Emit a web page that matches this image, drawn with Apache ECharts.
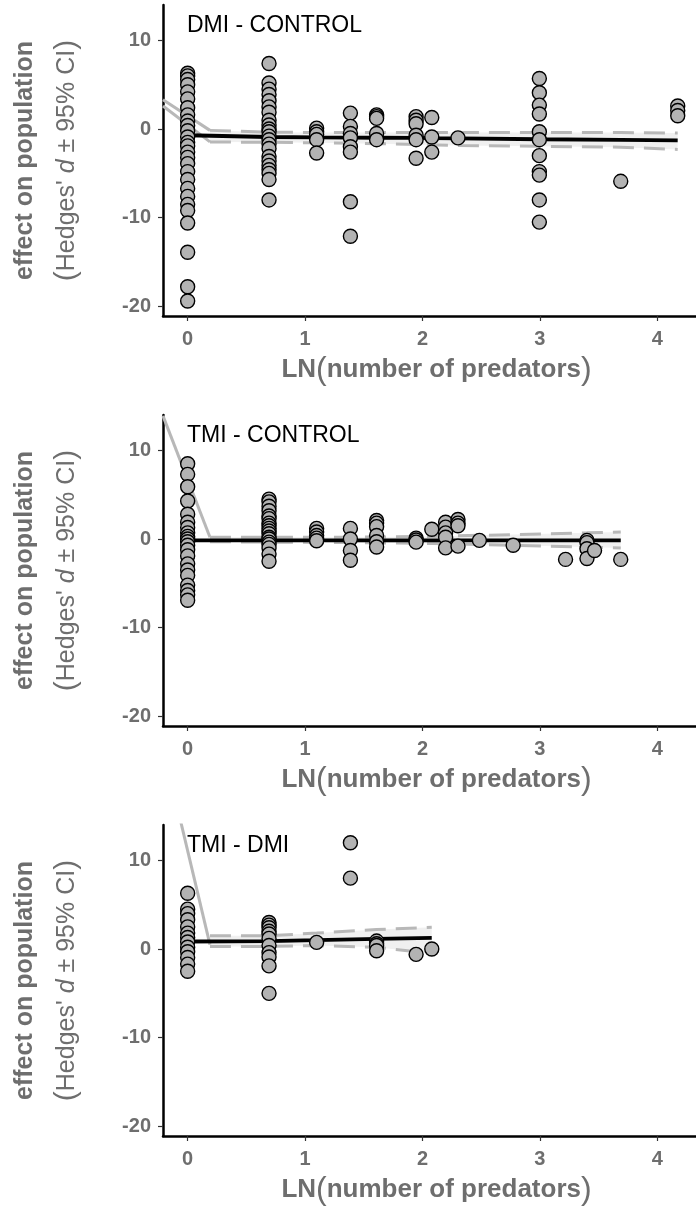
<!DOCTYPE html>
<html><head><meta charset="utf-8">
<script src="https://cdn.jsdelivr.net/npm/echarts@6/dist/echarts.min.js"></script>
<style>html,body{margin:0;padding:0;background:#fff}#c{width:696px;height:1210px}</style>
</head><body><div id="c"></div>
<script>
// ---------- data ----------
const panelTitles = ['DMI - CONTROL', 'TMI - CONTROL', 'TMI - DMI'];
const xTicks = [0, 1, 2, 3, 4];
const yTicks = [-20, -10, 0, 10];

// points: [number of predators, [Hedges' d values]]
const dmiControlPoints = [
  [1, [6.3, 6.0, 5.6, 5.0, 4.2, 3.4, 2.4, 1.6, 0.9, 0.4, -0.2, -0.9, -1.5, -1.9, -2.6, -3.2, -3.9, -4.8, -5.7, -6.7, -7.6, -8.5, -9.2, -10.6, -13.9, -17.8, -19.4]],
  [2, [7.4, 5.2, 4.5, 3.9, 3.2, 2.5, 1.9, 1.0, 0.45, 0.0, -0.3, -0.8, -1.2, -1.7, -2.2, -3.1, -3.6, -4.1, -4.6, -5.0, -5.7, -8.0]],
  [3, [0.1, -0.3, -0.6, -1.2, -2.7]],
  [4, [1.8, 0.3, -0.5, -1.0, -2.0, -2.6, -8.2, -12.1]],
  [5, [1.6, 1.4, 1.2, -0.5, -1.2]],
  [7, [1.4, 1.0, 0.6, -0.7, -1.2, -3.3]],
  [8, [1.3, -0.9, -2.6]],
  [10, [-1.0]],
  [20, [5.7, 4.1, 2.7, 1.7, -0.3, -1.2, -3.0, -4.8, -5.2, -8.0, -10.5]],
  [40, [-5.9]],
  [65, [2.6, 2.1, 1.5]]
];
const tmiControlPoints = [
  [1, [8.5, 7.3, 5.9, 4.3, 2.8, 1.9, 1.3, 0.7, 0.3, 0.0, -0.3, -0.7, -1.2, -1.9, -2.8, -3.5, -4.1, -5.2, -5.8, -6.3, -6.9]],
  [2, [4.5, 4.2, 3.7, 3.2, 2.6, 2.3, 1.8, 1.5, 1.2, 0.9, 0.6, 0.2, 0.0, -0.35, -0.6, -1.0, -1.7, -2.5]],
  [3, [1.2, 0.8, 0.4, 0.1, -0.2]],
  [4, [1.2, 0.0, -1.3, -2.4]],
  [5, [2.1, 1.8, 1.4, 0.4, -0.3, -0.9]],
  [7, [0.1, -0.1, -0.35]],
  [8, [1.1]],
  [9, [1.9, 1.35, 0.7, 0.2, -1.0]],
  [10, [2.2, 1.8, 1.5, -0.8]],
  [12, [-0.15]],
  [16, [-0.7]],
  [25, [-2.3]],
  [30, [-0.15, -0.4, -1.1, -2.2]],
  [32, [-1.3]],
  [40, [-2.3]]
];
const tmiDmiPoints = [
  [1, [6.3, 4.5, 4.0, 3.3, 2.5, 1.8, 1.3, 0.8, 0.2, -0.3, -0.95, -1.7, -2.5]],
  [2, [3.0, 2.7, 2.4, 2.0, 1.7, 1.2, 0.4, -0.4, -0.9, -1.9, -5.0]],
  [3, [0.75]],
  [4, [12.0, 8.0]],
  [5, [0.9, 0.6, 0.4, -0.2]],
  [7, [-0.6]],
  [8, [0.0]]
];

// fitted lines (x in LN units)
const dmiControlFitX = [0, 0.693, 1.099, 1.386, 1.609, 1.946, 2.079, 2.303, 2.996, 3.689, 4.174];
const dmiControlFit  = [-0.7, -0.9, -0.95, -0.97, -0.98, -1.0, -1.02, -1.05, -1.15, -1.22, -1.28];
const tmiControlFitX = [0, 0.693, 1.386, 2.079, 2.773, 3.689];
const tmiControlFit  = [-0.15, -0.15, -0.15, -0.15, -0.15, -0.15];
const tmiDmiFitX = [0, 0.693, 1.099, 1.609, 2.079];
const tmiDmiFit  = [0.85, 0.9, 1.0, 1.15, 1.25];

// 95% CI, dashed part
const dmiControlCiX = [0.19, 0.693, 1.099, 1.609, 2.303, 2.996, 3.689, 4.174];
const dmiControlCiUp = [-0.15, -0.35, -0.4, -0.4, -0.4, -0.4, -0.4, -0.45];
const dmiControlCiLo = [-1.45, -1.5, -1.55, -1.65, -1.85, -1.95, -2.05, -2.3];
const tmiControlCiX = [0.19, 0.693, 1.386, 2.079, 2.773, 3.401, 3.689];
const tmiControlCiUp = [0.2, 0.2, 0.2, 0.3, 0.5, 0.7, 0.8];
const tmiControlCiLo = [-0.3, -0.35, -0.4, -0.5, -0.7, -0.9, -1.0];
const tmiDmiCiX = [0.19, 0.693, 1.099, 1.609, 2.079];
const tmiDmiCiUp = [1.5, 1.5, 1.8, 2.2, 2.45];
const tmiDmiCiLo = [0.3, 0.3, 0.4, 0.2, -0.5];

// 95% CI, solid part near zero
const dmiControlCiSolid = [[[-0.21, 3.3], [0.19, -0.15]], [[-0.21, 2.6], [0.19, -1.45]]];
const tmiControlCiSolid = [[[-0.21, 13.9], [0.19, 0.2]]];
const tmiDmiCiSolid = [[[-0.21, 22.8], [0.19, 0.5]]];

// ---------- chart ----------
const FONT = 'Liberation Sans, Arial, sans-serif';
const GRAY = '#6e6e6e';
const panels = [
  {pts: dmiControlPoints, fx: dmiControlFitX, fy: dmiControlFit, cx: dmiControlCiX, cu: dmiControlCiUp, cl: dmiControlCiLo, cs: dmiControlCiSolid},
  {pts: tmiControlPoints, fx: tmiControlFitX, fy: tmiControlFit, cx: tmiControlCiX, cu: tmiControlCiUp, cl: tmiControlCiLo, cs: tmiControlCiSolid},
  {pts: tmiDmiPoints, fx: tmiDmiFitX, fy: tmiDmiFit, cx: tmiDmiCiX, cu: tmiDmiCiUp, cl: tmiDmiCiLo, cs: tmiDmiCiSolid}
];
const zip = (xs, ys) => xs.map((x, i) => [x, ys[i]]);

const grids = [], xAxes = [], yAxes = [], titles = [], series = [];
panels.forEach((p, i) => {
  const top = 5 + 410 * i;
  grids.push({left: 163, width: 533, top: top, height: 311});
  titles.push({text: panelTitles[i], left: 187, top: top + 9, padding: 0,
    textStyle: {fontFamily: FONT, fontSize: 23, fontWeight: 'normal', color: '#000'}});
  xAxes.push({
    type: 'value', gridIndex: i, min: -0.21, max: 4.33,
    axisLine: {onZero: false, lineStyle: {color: '#000', width: 2.5}},
    axisTick: {show: true, length: 5, customValues: xTicks, lineStyle: {color: '#333', width: 1.2}},
    axisLabel: {customValues: xTicks, margin: 13, fontFamily: FONT, fontSize: 20, fontWeight: 'bold', color: GRAY},
    splitLine: {show: false},
    name: 'LN{p|(}number of predators{p|)}', nameLocation: 'middle', nameGap: 38,
    nameTextStyle: {fontFamily: FONT, fontSize: 26, fontWeight: 'bold', color: GRAY, padding: [0, 0, 0, 14],
      rich: {p: {fontFamily: FONT, fontSize: 32, fontWeight: 'normal', color: GRAY}}}
  });
  yAxes.push({
    type: 'value', gridIndex: i, min: -21.1, max: 14,
    axisLine: {onZero: false, lineStyle: {color: '#000', width: 2.5}},
    axisTick: {show: true, length: 5, customValues: yTicks, lineStyle: {color: '#333', width: 1.2}},
    axisLabel: {customValues: yTicks, margin: 12, fontFamily: FONT, fontSize: 20, fontWeight: 'bold', color: GRAY},
    splitLine: {show: false},
    name: '{b|effect on population}\n{p|(}{n|Hedges\' }{i|d}{n| \u00b1 95% CI}{p|)}',
    nameLocation: 'middle', nameRotate: 90, nameGap: 75,
    nameTextStyle: {fontFamily: FONT, color: GRAY, rich: {
      b: {fontFamily: FONT, fontSize: 25, fontWeight: 'bold', color: GRAY, lineHeight: 42},
      n: {fontFamily: FONT, fontSize: 25, fontWeight: 'normal', color: GRAY, lineHeight: 42},
      i: {fontFamily: FONT, fontSize: 25, fontWeight: 'normal', fontStyle: 'italic', color: GRAY, lineHeight: 42},
      p: {fontFamily: FONT, fontSize: 30, fontWeight: 'normal', color: GRAY, lineHeight: 42}
    }}
  });
  // CI band
  series.push({
    type: 'custom', xAxisIndex: i, yAxisIndex: i, z: 1, silent: true, clip: true,
    data: [[0, 0]],
    renderItem: (params, api) => {
      const poly = [];
      for (let k = 0; k < p.cx.length; k++) poly.push(api.coord([p.cx[k], p.cu[k]]));
      for (let k = p.cx.length - 1; k >= 0; k--) poly.push(api.coord([p.cx[k], p.cl[k]]));
      return {type: 'polygon', shape: {points: poly}, style: {fill: '#f0f0f0'}};
    }
  });
  const dashed = {color: '#b8b8b8', width: 3, type: [21, 10]};
  [p.cu, p.cl].forEach(arr => series.push({
    type: 'line', xAxisIndex: i, yAxisIndex: i, z: 2, silent: true, symbol: 'none',
    data: zip(p.cx, arr), lineStyle: dashed
  }));
  p.cs.forEach(seg => series.push({
    type: 'line', xAxisIndex: i, yAxisIndex: i, z: 2, silent: true, symbol: 'none', clip: true,
    data: seg, lineStyle: {color: '#b8b8b8', width: 3}
  }));
  series.push({
    type: 'line', xAxisIndex: i, yAxisIndex: i, z: 3, silent: true, symbol: 'none',
    data: zip(p.fx, p.fy), lineStyle: {color: '#000', width: 3.8}
  });
  series.push({
    type: 'scatter', xAxisIndex: i, yAxisIndex: i, z: 4, silent: true,
    data: p.pts.flatMap(([n, ds]) => ds.map(d => [Math.log(n), d])),
    symbol: 'circle', symbolSize: 14,
    itemStyle: {color: '#b3b3b3', borderColor: '#000', borderWidth: 1.4, opacity: 1}
  });
});

const chart = echarts.init(document.getElementById('c'), null, {renderer: 'canvas'});
chart.setOption({
  animation: false, backgroundColor: '#fff',
  title: titles, grid: grids, xAxis: xAxes, yAxis: yAxes, series: series
});
</script></body></html>
